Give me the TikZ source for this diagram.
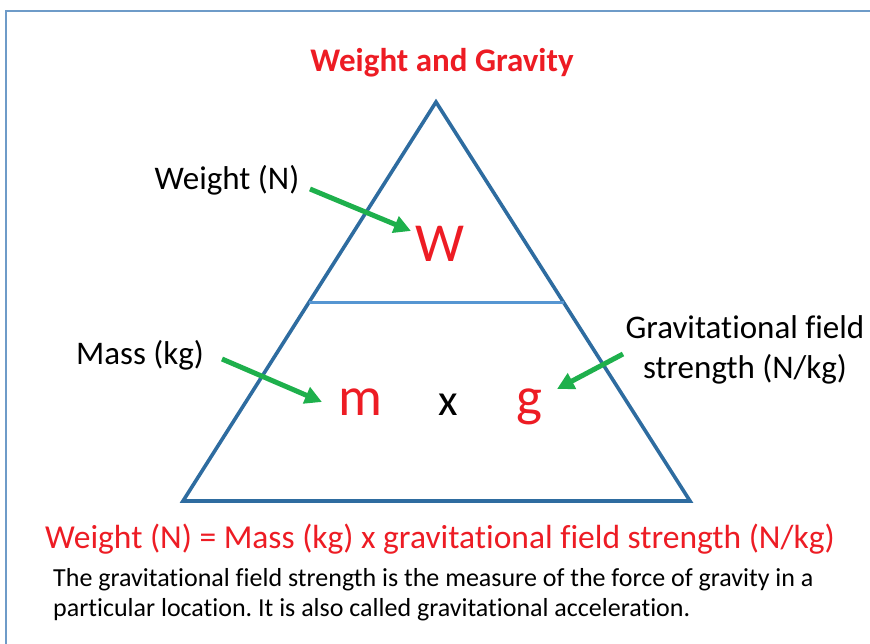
\documentclass[tikz,border=0pt]{standalone}
\usepackage{fontspec}
\setmainfont[Ligatures=NoCommon]{Carlito}
\frenchspacing
\usetikzlibrary{arrows.meta,calc}
\definecolor{tred}{RGB}{237,28,36}
\definecolor{tgreen}{RGB}{30,176,76}
\definecolor{tblue}{RGB}{46,108,160}
\definecolor{lblue}{RGB}{86,150,210}
\definecolor{frame}{RGB}{110,155,200}
\tikzset{
  lbl/.style={anchor=base,inner sep=0pt,font=\fontsize{33}{40}\selectfont},
  bigl/.style={anchor=base,inner sep=0pt,text=tred,font=\fontsize{55}{66}\selectfont},
  pointer/.style={draw=tgreen,line width=5pt,-{Triangle[length=17pt,width=17pt]}},
  tri/.style={draw=tblue,line width=3.6pt,line join=miter},
}
\begin{document}
\begin{tikzpicture}[x=1pt,y=-1pt]
\useasboundingbox (0,0) rectangle (870,644);
% frame
\draw[frame,line width=1.6pt] (6,650) -- (6,11) -- (880,11);
% title
\node[anchor=base,inner sep=0pt,text=tred,font=\bfseries\fontsize{33}{40}\selectfont] (title) at (442,72) {Weight and Gravity};
% triangle
\coordinate (A) at (436,102);
\coordinate (B) at (183,501);
\coordinate (C) at (690,501);
\draw[tri] (A) -- (B) -- (C) -- cycle;
\coordinate (D1) at ($(A)!0.502!(B)$);
\coordinate (D2) at ($(A)!0.502!(C)$);
\draw[lblue,line width=3.4pt] (D1) -- (D2);
% letters
\node[bigl] (W) at (440,262) {W};
\node[bigl] (m) at (360,415) {m};
\node[anchor=base,inner sep=0pt,font=\fontsize{45}{54}\selectfont] (x) at (448,415) {x};
\node[bigl] (g) at (529,415) {g};
% labels
\node[lbl] (wl) at (227,190) {Weight (N)};
\node[lbl] (ml) at (140,364) {Mass (kg)};
\node[lbl] (gl1) at (745,338) {Gravitational field};
\node[lbl] (gl2) at (745,378) {strength (N/kg)};
% arrows
\coordinate (wa) at (310,189);
\coordinate (wb) at (411,231);
\coordinate (ma) at (222,359);
\coordinate (mb) at (322,402);
\coordinate (ga) at (623,354);
\coordinate (gb) at (557,389);
\draw[pointer] (wa) -- (wb);
\draw[pointer] (ma) -- (mb);
\draw[pointer] (ga) -- (gb);
% formula
\node[anchor=base,inner sep=0pt,text=tred,font=\fontsize{33.5}{40}\selectfont] (formula) at (440,548) {Weight (N) = Mass (kg) x gravitational field strength (N/kg)};
\node[anchor=base west,inner sep=0pt,font=\fontsize{26}{31}\selectfont] (t1) at (53,586) {The gravitational field strength is the measure of the force of gravity in a};
\node[anchor=base west,inner sep=0pt,font=\fontsize{26}{31}\selectfont] (t2) at (53,616) {particular location. It is also called gravitational acceleration.};
\end{tikzpicture}
\end{document}
